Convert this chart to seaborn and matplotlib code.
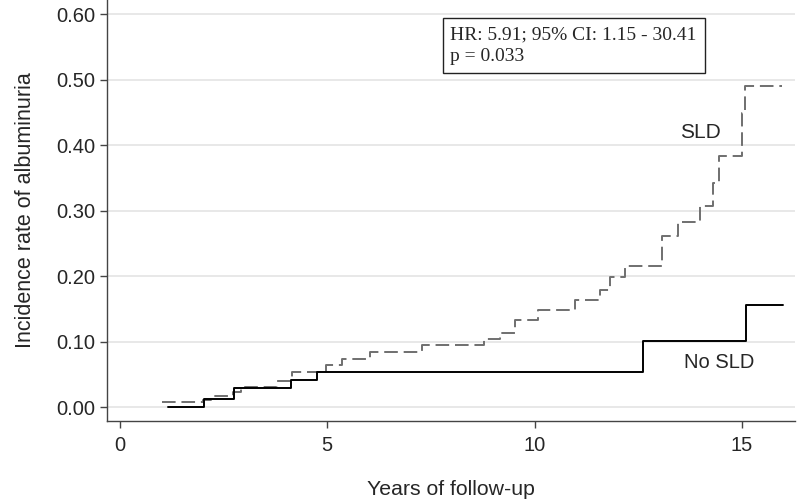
import pandas as pd
import matplotlib
matplotlib.use("Agg")
import matplotlib.pyplot as plt
import seaborn as sns

# step data (years, cumulative incidence)
no_sld_time = [1.15, 2.03, 2.75, 4.13, 4.75, 12.62, 15.10, 16.00]
no_sld_rate = [0.000, 0.013, 0.030, 0.042, 0.054, 0.101, 0.156, 0.156]

sld_time = [1.02, 2.00, 2.20, 2.73, 2.92, 3.78, 4.14, 4.98, 5.35, 6.03, 7.28,
            8.77, 9.17, 9.53, 10.09, 10.98, 11.57, 11.82, 12.18, 13.08, 13.47,
            13.99, 14.31, 14.45, 15.00, 15.07, 15.97]
sld_rate = [0.009, 0.012, 0.017, 0.024, 0.031, 0.040, 0.054, 0.064, 0.074,
            0.085, 0.095, 0.104, 0.114, 0.134, 0.148, 0.164, 0.180, 0.199,
            0.216, 0.262, 0.283, 0.307, 0.342, 0.384, 0.449, 0.490, 0.490]

x_ticks = [0, 5, 10, 15]
y_ticks = [0.0, 0.1, 0.2, 0.3, 0.4, 0.5, 0.6]

df = pd.concat([
    pd.DataFrame({"time": sld_time, "rate": sld_rate, "group": "SLD"}),
    pd.DataFrame({"time": no_sld_time, "rate": no_sld_rate, "group": "No SLD"}),
])

sns.set_style("white")
plt.rcParams["font.family"] = ["Liberation Sans", "DejaVu Sans"]

fig = plt.figure(figsize=(7.97, 5.01), dpi=100)
ax = fig.add_axes([0.1339, 0.160, 0.863, 0.840])

sns.lineplot(data=df, x="time", y="rate", hue="group", style="group",
             palette={"SLD": "#6f6f6f", "No SLD": "black"},
             dashes={"SLD": (7, 3), "No SLD": ""},
             drawstyle="steps-post", estimator=None, linewidth=1.4,
             legend=False, ax=ax)

ax.set_xlim(-0.32, 16.27)
ax.set_ylim(-0.0205, 0.622)
ax.set_xticks(x_ticks)
ax.set_yticks(y_ticks)
ax.set_yticklabels([f"{v:.2f}" for v in y_ticks])
ax.grid(axis="y", color="#e6e6e6", linewidth=1.3)
ax.set_axisbelow(True)
for s in ["top", "right"]:
    ax.spines[s].set_visible(False)
for s in ["left", "bottom"]:
    ax.spines[s].set_color("#444444")
    ax.spines[s].set_linewidth(1.0)
ax.tick_params(axis="both", direction="out", length=5, width=1.0,
               color="#444444", labelsize=14.5, pad=3, left=True, bottom=True)
ax.tick_params(axis="x", pad=6)

ax.set_xlabel("Years of follow-up", fontsize=15.3, labelpad=18)
ax.set_ylabel("Incidence rate of albuminuria", fontsize=15.5, labelpad=15)

ax.text(13.99, 0.419, "SLD", fontsize=15, ha="center", va="center")
ax.text(14.45, 0.068, "No SLD", fontsize=14.5, ha="center", va="center")

ax.text(7.97, 0.582, "HR: 5.91; 95% CI: 1.15 - 30.41\np = 0.033",
        family=["Liberation Serif", "DejaVu Serif"], fontsize=14,
        ha="left", va="top", linespacing=1.4,
        bbox=dict(boxstyle="square,pad=0.4", facecolor="white",
                  edgecolor="#222222", linewidth=1.0))

fig.savefig("out.png", dpi=100)
